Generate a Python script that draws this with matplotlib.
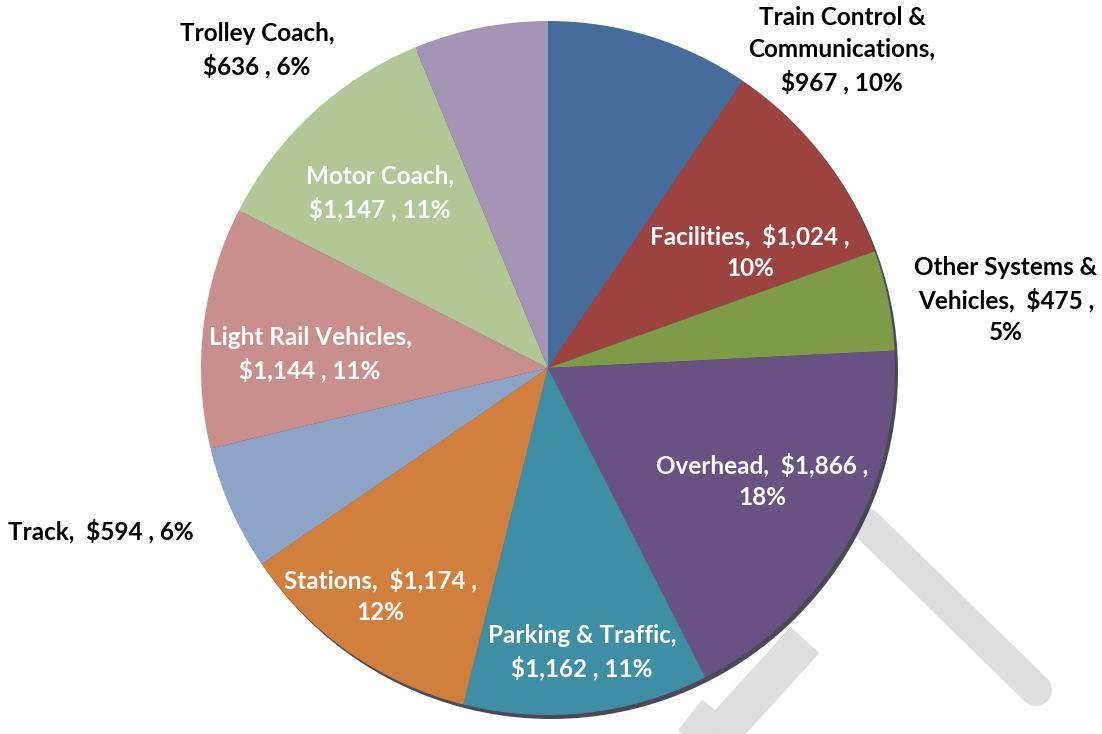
import matplotlib.pyplot as plt

# data
labels = ['Train Control &\nCommunications,\n$967 , 10%',
          'Facilities,  $1,024 ,\n10%',
          'Other Systems &\nVehicles,  $475 ,\n5%',
          'Overhead,  $1,866 ,\n18%',
          'Parking & Traffic,\n$1,162 , 11%',
          'Stations,  $1,174 ,\n12%',
          'Track,  $594 , 6%',
          'Light Rail Vehicles,\n$1,144 , 11%',
          'Motor Coach,\n$1,147 , 11%',
          'Trolley Coach,\n$636 , 6%']
values = [967, 1024, 475, 1866, 1162, 1174, 594, 1144, 1147, 636]
colors = ['#466c9c', '#9c4340', '#7e9b48', '#685283', '#3e8fa6',
          '#d17f3c', '#8ea4c6', '#c98f8d', '#b2c795', '#a495b5']
inside = [False, True, False, True, True, True, False, True, True, False]

# label centres in pixels (x, y from top)
label_pos = [(842, 50), (750, 252), (1006, 300), (762, 481), (582, 652),
             (380, 596), (101, 531), (310, 354), (380, 193), (257, 50)]

W, H = 1102, 734
fig = plt.figure(figsize=(W / 100, H / 100), dpi=100)
ax = fig.add_axes([0, 0, 1, 1])

cx, cy, r = 548, H - 368, 347

# grey watermark behind the pie
wm = '#dedede'
ax.plot([866, 1036], [H - 524, H - 690], color=wm, lw=23, solid_capstyle='round', zorder=0)
ax.plot([805, 705], [H - 640, H - 750], color=wm, lw=28, solid_capstyle='butt', zorder=0)
ax.plot([690, 760], [H - 715, H - 770], color=wm, lw=28, solid_capstyle='butt', zorder=0)

# shadow rim
shadow = plt.Circle((cx + 3, cy - 4), r, color='#2a2a3a', alpha=0.85, zorder=1, lw=0)
ax.add_patch(shadow)

ax.pie(values, colors=colors, startangle=90, counterclock=False,
       center=(cx, cy), radius=r, frame=True,
       wedgeprops=dict(linewidth=0, zorder=2))
ax.set_xlim(0, W)
ax.set_ylim(0, H)
ax.set_aspect('equal')
ax.axis('off')

for lab, (px, py), ins in zip(labels, label_pos, inside):
    ax.text(px, H - py, lab, ha='center', va='center', multialignment='center',
            fontsize=17.5, fontweight='bold', family=['Lato', 'DejaVu Sans'],
            color='white' if ins else 'black', linespacing=1.45, zorder=5)

fig.savefig('out.png', dpi=100)
